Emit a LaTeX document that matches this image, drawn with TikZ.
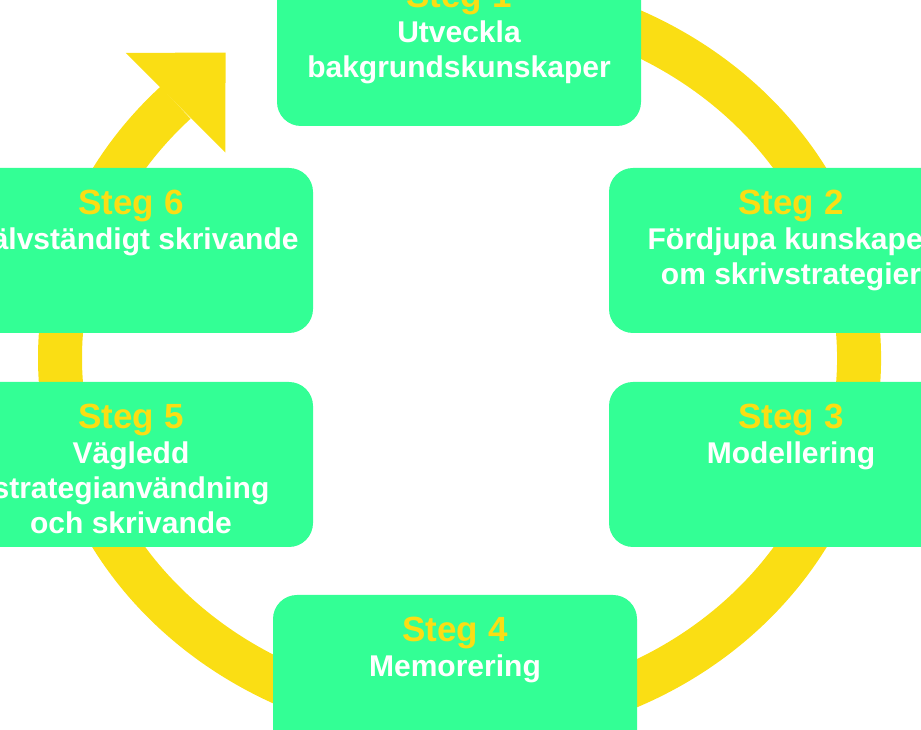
\documentclass[tikz,border=0pt]{standalone}
\usepackage{fontspec}
\setmainfont{Liberation Sans}
\usetikzlibrary{positioning}

\definecolor{stepgreen}{RGB}{51,255,149}
\definecolor{ringyellow}{RGB}{250,222,20}

\begin{document}
\begin{tikzpicture}[
	x=1pt, y=1pt,
	stepbox/.style={draw=none, fill=stepgreen, rounded corners=24pt, minimum width=364pt, minimum height=165pt, inner sep=0pt},
	steptext/.style={anchor=base, align=center, text=white, inner sep=0pt, font=\bfseries\fontsize{30}{35}\selectfont},
	ring/.style={draw=ringyellow, line width=44pt},
	]
	
	%-----------------------
	% Page and positions
	%-----------------------
	\useasboundingbox (0,0) rectangle (921,730);
	\clip (0,0) rectangle (921,730);
	
	\def\colleft{131}
	\def\colmid{459}
	\def\colright{791}
	\def\rowtop{686.5}
	\def\rowhigh{479.5}
	\def\rowlow{265.5}
	\def\rowbottom{52.5}
	\newcommand{\stegnr}[1]{{\color{ringyellow}\fontsize{35}{35}\selectfont Steg #1}}
	
	%-----------------------
	% Cycle ring with arrow
	%-----------------------
	\coordinate (ringc) at (459.5,372);
	\coordinate (arrowbase) at ([shift={(135.3:399.5 and 363)}]ringc);
	
	\draw[ring] ([shift={(100:399.5 and 363)}]ringc) arc[start angle=100, end angle=-224.7, x radius=399.5, y radius=363];
	\fill[ringyellow] ([shift={(45:70.7)}]arrowbase) -- ([shift={(135:70.5)}]arrowbase) -- ([shift={(-45:70.5)}]arrowbase) -- cycle;
	
	%-----------------------
	% Step boxes
	%-----------------------
	\node[stepbox] (S1) at (\colmid,\rowtop) {};
	\node[stepbox] (S2) at (\colright,\rowhigh) {};
	\node[stepbox] (S3) at (\colright,\rowlow) {};
	\node[stepbox] (S4) at (455,\rowbottom) {};
	\node[stepbox] (S5) at (\colleft,\rowlow) {};
	\node[stepbox] (S6) at (\colleft,\rowhigh) {};
	
	%-----------------------
	% Step texts (base = last line)
	%-----------------------
	\node[steptext] (T1) at ([yshift=-117]S1.north) {\stegnr{1}\\ Utveckla\\ bakgrundskunskaper};
	\node[steptext] (T2) at ([yshift=-117]S2.north) {\stegnr{2}\\ Fördjupa kunskaper\\ om skrivstrategier};
	\node[steptext] (T3) at ([yshift=-82]S3.north) {\stegnr{3}\\ Modellering};
	\node[steptext] (T4) at ([yshift=-82]S4.north) {\stegnr{4}\\ Memorering};
	\node[steptext] (T5) at ([yshift=-152]S5.north) {\stegnr{5}\\ Vägledd\\ strategianvändning\\ och skrivande};
	\node[steptext] (T6) at ([yshift=-82]S6.north) {\stegnr{6}\\ Självständigt skrivande};
	
\end{tikzpicture}
\end{document}
